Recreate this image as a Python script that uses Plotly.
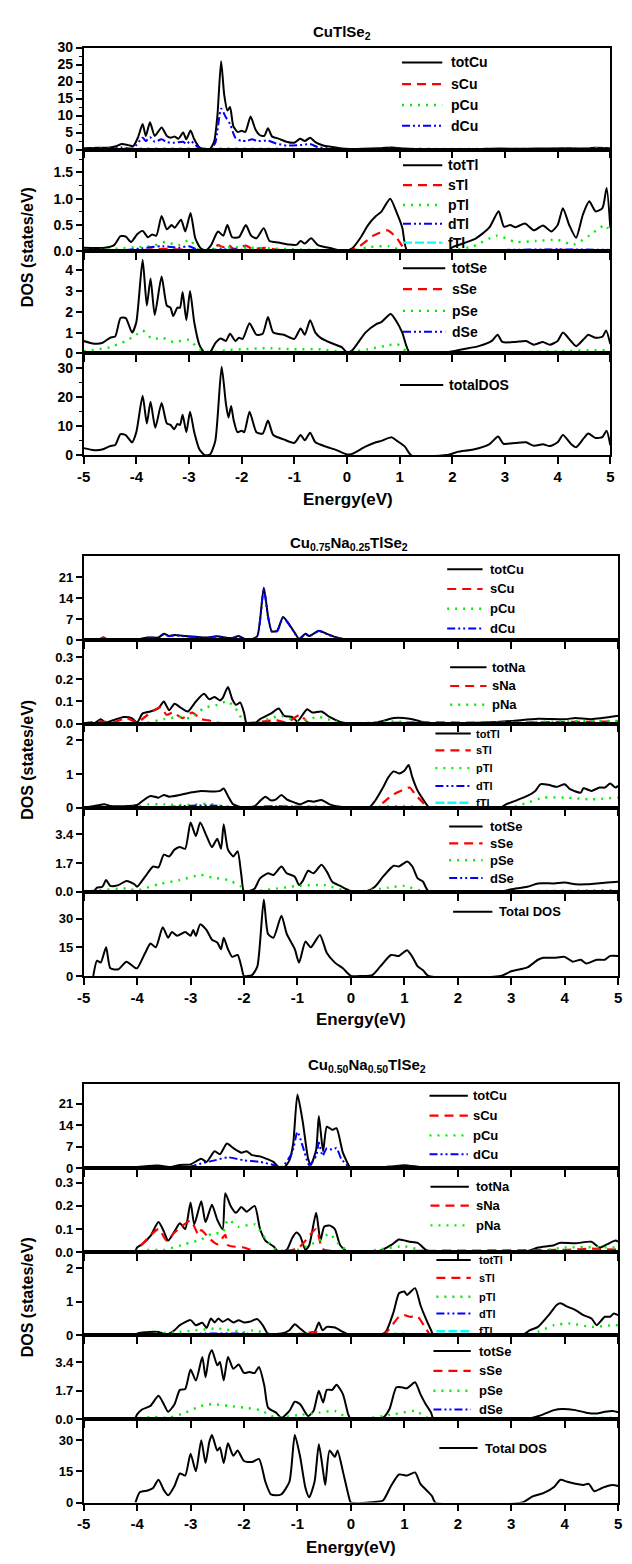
import plotly.graph_objects as go

W, H = 632, 1564

# ---------------- CuTlSe2 : (energy eV, DOS states/eV) ----------------
cu1_tot = [(-5,0.4),(-4.7,0.5),(-4.5,0.6),(-4.4,0.9),(-4.28,1.6),(-4.15,1.3),(-4.06,1.0),(-3.97,3.5),(-3.88,7.5),(-3.82,4.0),(-3.74,8.0),(-3.65,4.0),(-3.52,6.5),(-3.42,4.0),(-3.35,3.5),(-3.27,3.8),(-3.2,3.2),(-3.11,5.0),(-3.05,3.0),(-2.97,5.6),(-2.9,3.0),(-2.8,0.6),(-2.7,0.15),(-2.6,0.2),(-2.52,2.5),(-2.46,10),(-2.39,26.0),(-2.33,16),(-2.27,11.5),(-2.22,12.5),(-2.16,7),(-2.08,5.2),(-2.0,5.5),(-1.93,5.2),(-1.83,9.7),(-1.74,6.0),(-1.65,4.2),(-1.57,4.0),(-1.5,6.3),(-1.42,3.8),(-1.3,3.2),(-1.15,2.3),(-1.0,2.0),(-0.89,3.2),(-0.8,2.5),(-0.7,3.5),(-0.6,2.2),(-0.45,1.2),(-0.3,0.8),(-0.1,0.3),(0.05,0.15),(0.3,0.2),(0.6,0.4),(0.85,0.6),(1.1,0.3),(1.4,0.1),(2.0,0.1),(2.5,0.15),(2.9,0.3),(3.3,0.2),(3.7,0.3),(4.1,0.4),(4.5,0.3),(4.7,0.5),(5.0,0.4)]
cu1_s = [(-5,0.1),(-3.5,0.15),(-2.4,0.1),(0,0.05),(3,0.15),(4.5,0.2),(5,0.25)]
cu1_p = [(-5,0.2),(-3.8,0.3),(-2.4,0.3),(-1,0.2),(0,0.05),(0.8,0.2),(3,0.2),(4.7,0.3),(5,0.2)]
cu1_d = [(-5,0.1),(-4.5,0.2),(-4.28,0.6),(-4.06,0.4),(-3.88,3.5),(-3.82,2.5),(-3.74,3.6),(-3.65,2.3),(-3.52,3.0),(-3.42,2.2),(-3.27,2.0),(-3.11,2.3),(-3.05,1.6),(-2.97,2.5),(-2.85,1.0),(-2.75,0.1),(-2.6,0.1),(-2.5,2.0),(-2.39,12.0),(-2.3,9.5),(-2.22,7.5),(-2.12,3.5),(-2.0,2.5),(-1.9,2.6),(-1.8,3.0),(-1.7,2.5),(-1.5,2.6),(-1.35,1.8),(-1.15,1.2),(-0.89,1.3),(-0.7,1.6),(-0.55,0.7),(-0.3,0.3),(0.0,0.05),(0.85,0.2),(1.2,0.05),(5.0,0.1)]

tl1_tot = [(-5,0.07),(-4.6,0.07),(-4.42,0.12),(-4.3,0.29),(-4.2,0.28),(-4.1,0.18),(-3.98,0.33),(-3.88,0.39),(-3.78,0.27),(-3.7,0.32),(-3.62,0.3),(-3.52,0.67),(-3.42,0.42),(-3.33,0.5),(-3.27,0.45),(-3.15,0.6),(-3.07,0.38),(-2.97,0.73),(-2.88,0.25),(-2.78,0.06),(-2.68,0.02),(-2.58,0.12),(-2.45,0.38),(-2.35,0.3),(-2.27,0.5),(-2.18,0.27),(-2.05,0.27),(-1.92,0.5),(-1.82,0.3),(-1.72,0.25),(-1.58,0.44),(-1.47,0.2),(-1.3,0.17),(-1.1,0.13),(-0.95,0.13),(-0.88,0.2),(-0.8,0.15),(-0.68,0.25),(-0.55,0.12),(-0.3,0.06),(-0.05,0.01),(0.1,0.06),(0.25,0.25),(0.4,0.5),(0.55,0.67),(0.65,0.75),(0.82,1.0),(0.95,0.72),(1.05,0.45),(1.15,0.0),(1.9,0.0),(2.0,0.08),(2.2,0.15),(2.45,0.25),(2.7,0.45),(2.88,0.76),(2.98,0.47),(3.1,0.5),(3.2,0.46),(3.38,0.53),(3.55,0.4),(3.72,0.49),(3.88,0.38),(4.0,0.5),(4.1,0.82),(4.22,0.5),(4.35,0.26),(4.48,0.7),(4.6,0.95),(4.72,0.76),(4.85,0.82),(4.93,1.2),(5.0,0.45)]
tl1_s = [(-5,0.01),(-4,0.02),(-3.5,0.05),(-3,0.03),(-2.6,0.0),(-2.45,0.12),(-2.35,0.08),(-2.27,0.14),(-2.15,0.05),(-1.92,0.11),(-1.8,0.05),(-1.58,0.07),(-1.3,0.03),(-0.5,0.02),(0.0,0.0),(0.24,0.1),(0.5,0.3),(0.77,0.4),(0.95,0.25),(1.05,0.1),(1.12,0.0),(2.0,0.0),(3.0,0.02),(4.0,0.03),(5.0,0.02)]
tl1_p = [(-5,0.02),(-4.5,0.04),(-4.3,0.06),(-4.0,0.08),(-3.7,0.1),(-3.45,0.18),(-3.2,0.12),(-2.98,0.22),(-2.85,0.05),(-2.7,0.01),(-2.5,0.06),(-2.2,0.08),(-1.8,0.07),(-1.5,0.06),(-1.0,0.04),(-0.5,0.03),(0.0,0.0),(0.4,0.08),(0.8,0.1),(1.1,0.0),(2.0,0.02),(2.4,0.1),(2.85,0.3),(3.2,0.18),(3.6,0.2),(4.0,0.22),(4.3,0.13),(4.6,0.3),(4.9,0.5),(5.0,0.35)]
tl1_d = [(-5,0.01),(-4.2,0.03),(-3.9,0.06),(-3.5,0.1),(-3.2,0.07),(-3.0,0.1),(-2.8,0.02),(-2.4,0.04),(-1.8,0.03),(-1,0.02),(0,0.0),(1,0.01),(3,0.03),(4,0.04),(5,0.03)]
tl1_f = [(-5,0.005),(0,0.003),(5,0.008)]

se1_tot = [(-5,0.6),(-4.8,0.47),(-4.65,0.5),(-4.5,0.75),(-4.4,0.82),(-4.3,1.7),(-4.2,1.7),(-4.08,1.0),(-4.0,1.5),(-3.88,4.5),(-3.8,2.3),(-3.73,3.6),(-3.65,1.85),(-3.52,3.7),(-3.42,2.3),(-3.35,2.2),(-3.3,1.8),(-3.22,2.2),(-3.17,2.2),(-3.12,2.95),(-3.05,1.6),(-2.98,3.0),(-2.9,1.5),(-2.8,0.4),(-2.7,0.02),(-2.6,0.05),(-2.5,0.5),(-2.4,0.72),(-2.3,0.6),(-2.22,0.95),(-2.12,0.6),(-2.05,0.75),(-1.98,0.7),(-1.85,1.45),(-1.72,0.9),(-1.6,0.95),(-1.5,1.75),(-1.4,1.0),(-1.2,0.9),(-1.0,0.7),(-0.88,1.2),(-0.8,0.9),(-0.7,1.6),(-0.6,1.0),(-0.5,0.75),(-0.3,0.5),(-0.1,0.3),(0.0,0.05),(0.1,0.15),(0.35,1.0),(0.55,1.4),(0.65,1.5),(0.83,1.9),(0.95,1.5),(1.05,1.0),(1.2,0.0),(1.9,0.05),(2.2,0.2),(2.5,0.35),(2.75,0.6),(2.86,0.9),(2.95,0.55),(3.2,0.55),(3.4,0.6),(3.55,0.42),(3.72,0.55),(3.85,0.42),(4.0,0.6),(4.1,1.0),(4.25,0.6),(4.35,0.35),(4.5,0.7),(4.58,0.9),(4.72,0.75),(4.85,0.8),(4.92,1.1),(5.0,0.45)]
se1_s = [(-5,0.03),(-4,0.04),(-3,0.03),(-2,0.02),(0,0.01),(2,0.0),(3,0.05),(4,0.04),(5,0.05)]
se1_p = [(-5,0.1),(-4.5,0.3),(-4.2,0.6),(-4.0,0.9),(-3.88,1.1),(-3.7,0.7),(-3.5,0.75),(-3.3,0.55),(-3.0,0.65),(-2.8,0.2),(-2.6,0.05),(-2.3,0.15),(-2.0,0.2),(-1.5,0.25),(-1.0,0.2),(-0.5,0.2),(0.0,0.05),(0.4,0.2),(0.8,0.4),(0.95,0.45),(1.2,0.0),(2.5,0.0),(3.0,0.05),(4.0,0.1),(4.9,0.15),(5.0,0.05)]
se1_d = [(-5,0.02),(-3.5,0.03),(0,0.02),(3,0.03),(5,0.03)]

tot1 = [(-5,2.5),(-4.8,1.8),(-4.65,2.0),(-4.5,3.2),(-4.4,3.6),(-4.3,7.3),(-4.2,7.0),(-4.08,4.5),(-4.0,8.0),(-3.88,20.5),(-3.8,11),(-3.73,18.5),(-3.64,9.5),(-3.52,18),(-3.42,11),(-3.35,10.5),(-3.28,9),(-3.22,10.8),(-3.17,10.5),(-3.12,14),(-3.05,8),(-2.98,15),(-2.9,8),(-2.8,2),(-2.7,0.1),(-2.6,0.3),(-2.5,5),(-2.38,30.5),(-2.3,18),(-2.25,13),(-2.2,17),(-2.15,12),(-2.08,8),(-2.0,8.5),(-1.95,8),(-1.85,15),(-1.72,8),(-1.6,7.5),(-1.5,12),(-1.4,7),(-1.2,5.5),(-1.0,4.3),(-0.88,7),(-0.8,5.2),(-0.7,7.8),(-0.6,4.5),(-0.4,3),(-0.2,1.8),(0.0,0.3),(0.1,0.5),(0.35,3),(0.55,4.5),(0.65,5),(0.85,6.2),(0.95,5),(1.1,3),(1.22,0.0),(1.9,0.1),(2.1,1.2),(2.4,2),(2.7,3.8),(2.87,6.5),(2.97,4),(3.2,4.3),(3.4,4.5),(3.55,3.3),(3.72,3.8),(3.85,3.2),(4.0,4.5),(4.1,7),(4.25,4),(4.35,2.8),(4.5,6),(4.58,7.5),(4.72,6),(4.85,6.3),(4.93,8.5),(5.0,3.5)]

# ---------------- Cu0.75Na0.25TlSe2 ----------------
cu2_tot = [(-5,0.1),(-4.8,0.3),(-4.68,0.3),(-4.63,1.0),(-4.55,0.2),(-4.3,0.3),(-4.0,0.3),(-3.8,1.0),(-3.6,1.0),(-3.5,2.2),(-3.4,1.5),(-3.3,1.8),(-3.1,1.5),(-2.9,1.2),(-2.7,1.0),(-2.5,1.4),(-2.3,0.8),(-2.2,0.9),(-2.1,1.5),(-2.0,0.6),(-1.85,0.4),(-1.75,1.5),(-1.63,17.5),(-1.55,8),(-1.48,3),(-1.38,3.2),(-1.27,7.8),(-1.18,6),(-1.05,2.5),(-0.97,0.5),(-0.85,2.2),(-0.78,1.5),(-0.6,3.2),(-0.45,2.2),(-0.3,1.2),(-0.1,0.3),(0.0,0.0),(0.5,0.1),(1.0,0.4),(1.4,0.1),(2.0,0.1),(3.0,0.15),(4.0,0.2),(5.0,0.3)]
cu2_s = [(-5,0.0),(-4.75,0.05),(-4.63,1.0),(-4.55,0.05),(-3,0.05),(0,0.02),(5,0.05)]
cu2_p = [(-5,0.02),(-3,0.1),(-1.6,0.2),(0,0.02),(5,0.1)]
cu2_d = [(-5,0.05),(-4.8,0.2),(-4.3,0.25),(-4.0,0.3),(-3.8,0.9),(-3.6,0.95),(-3.5,2.0),(-3.4,1.4),(-3.3,1.7),(-3.1,1.4),(-2.9,1.1),(-2.7,0.9),(-2.5,1.3),(-2.3,0.7),(-2.2,0.8),(-2.1,1.4),(-2.0,0.5),(-1.85,0.35),(-1.75,1.4),(-1.63,17.2),(-1.55,7.8),(-1.48,2.9),(-1.38,3.1),(-1.27,7.6),(-1.18,5.8),(-1.05,2.4),(-0.97,0.45),(-0.85,2.1),(-0.78,1.4),(-0.6,3.1),(-0.45,2.1),(-0.3,1.1),(-0.1,0.25),(0.0,0.0),(1.0,0.3),(1.4,0.05),(5.0,0.2)]

na2_tot = [(-5,0.0),(-4.8,0.002),(-4.68,0.02),(-4.6,0.005),(-4.45,0.015),(-4.25,0.03),(-4.1,0.025),(-4.0,0.005),(-3.9,0.045),(-3.75,0.055),(-3.6,0.07),(-3.5,0.1),(-3.4,0.06),(-3.3,0.09),(-3.2,0.075),(-3.05,0.055),(-2.9,0.1),(-2.75,0.135),(-2.65,0.11),(-2.55,0.12),(-2.45,0.105),(-2.4,0.115),(-2.3,0.165),(-2.22,0.11),(-2.15,0.085),(-2.07,0.095),(-2.0,0.05),(-1.95,0.0),(-1.8,0.0),(-1.7,0.02),(-1.5,0.045),(-1.35,0.068),(-1.25,0.035),(-1.1,0.03),(-1.0,0.01),(-0.82,0.065),(-0.72,0.05),(-0.55,0.055),(-0.4,0.03),(-0.2,0.008),(0.0,0.0),(0.3,0.0),(0.6,0.012),(0.8,0.025),(1.1,0.022),(1.3,0.01),(1.5,0.0),(2.5,0.005),(3.0,0.012),(3.5,0.022),(4.0,0.02),(4.2,0.025),(4.5,0.02),(5.0,0.035)]
na2_s = [(-5,0.0),(-4.7,0.01),(-4.45,0.005),(-4.2,0.025),(-4.0,0.005),(-3.8,0.04),(-3.55,0.075),(-3.45,0.04),(-3.33,0.05),(-3.15,0.025),(-2.97,0.05),(-2.8,0.02),(-2.67,0.015),(-2.5,0.005),(-2.0,0.0),(-1.4,0.015),(-1.2,0.005),(-0.95,0.04),(-0.8,0.005),(0,0),(1,0.005),(3,0.005),(5,0.01)]
na2_p = [(-5,0.0),(-4.0,0.002),(-3.8,0.005),(-3.5,0.02),(-3.2,0.03),(-3.0,0.025),(-2.75,0.07),(-2.5,0.085),(-2.3,0.1),(-2.1,0.05),(-2.0,0.0),(-1.8,0.0),(-1.5,0.025),(-1.3,0.035),(-1.0,0.01),(-0.6,0.03),(-0.3,0.01),(0.0,0.0),(0.8,0.01),(1.5,0.0),(3.0,0.005),(4.0,0.01),(5.0,0.012)]

tl2_tot = [(-5,0.0),(-4.8,0.05),(-4.6,0.1),(-4.5,0.05),(-4.0,0.08),(-3.9,0.2),(-3.75,0.35),(-3.6,0.3),(-3.5,0.38),(-3.4,0.33),(-3.2,0.38),(-3.0,0.45),(-2.8,0.5),(-2.6,0.48),(-2.45,0.5),(-2.38,0.57),(-2.3,0.35),(-2.2,0.1),(-2.0,0.0),(-1.8,0.05),(-1.7,0.2),(-1.6,0.33),(-1.5,0.22),(-1.4,0.25),(-1.3,0.38),(-1.2,0.25),(-1.05,0.15),(-0.95,0.1),(-0.8,0.2),(-0.7,0.18),(-0.55,0.23),(-0.4,0.1),(-0.2,0.03),(0.0,0.0),(0.35,0.02),(0.45,0.2),(0.6,0.6),(0.7,0.9),(0.8,1.08),(0.9,1.02),(1.0,1.1),(1.08,1.27),(1.15,0.9),(1.25,0.5),(1.35,0.25),(1.45,0.03),(1.5,0.0),(2.8,0.0),(2.9,0.1),(3.1,0.22),(3.3,0.35),(3.45,0.5),(3.55,0.7),(3.7,0.68),(3.85,0.62),(4.0,0.7),(4.1,0.55),(4.3,0.45),(4.35,0.58),(4.5,0.5),(4.65,0.6),(4.75,0.6),(4.85,0.72),(4.95,0.6),(5.0,0.65)]
tl2_s = [(-5,0.0),(-3,0.02),(-2,0.01),(-1.5,0.05),(-1,0.03),(0,0.0),(0.5,0.02),(0.6,0.15),(0.8,0.4),(1.0,0.55),(1.1,0.6),(1.2,0.4),(1.35,0.15),(1.45,0.0),(3,0.01),(5,0.02)]
tl2_p = [(-5,0.0),(-4.0,0.03),(-3.8,0.1),(-3.5,0.1),(-3.0,0.08),(-2.7,0.12),(-2.4,0.05),(-2.0,0.0),(-1.3,0.05),(-0.5,0.03),(0.0,0.0),(1.0,0.05),(1.5,0.0),(2.9,0.0),(3.1,0.05),(3.3,0.15),(3.6,0.3),(4.0,0.3),(4.5,0.25),(5.0,0.3)]
tl2_d = [(-5,0.0),(-3.5,0.02),(-3.0,0.06),(-2.5,0.06),(-2.2,0.01),(0,0.0),(3.5,0.02),(5,0.01)]
tl2_f = [(-5,0.005),(5,0.005)]

se2_tot = [(-5,0.0),(-4.82,0.0),(-4.75,0.25),(-4.65,0.3),(-4.58,0.7),(-4.5,0.35),(-4.35,0.4),(-4.2,0.65),(-4.05,0.45),(-4.0,0.3),(-3.85,0.9),(-3.7,1.5),(-3.6,1.45),(-3.5,2.2),(-3.4,2.1),(-3.3,2.5),(-3.2,2.65),(-3.1,2.55),(-3.0,4.1),(-2.9,3.3),(-2.82,4.1),(-2.7,3.3),(-2.6,2.65),(-2.5,3.15),(-2.43,2.55),(-2.38,4.0),(-2.3,2.5),(-2.2,2.1),(-2.12,2.4),(-2.05,1.0),(-2.0,0.0),(-1.9,0.05),(-1.8,0.2),(-1.7,0.8),(-1.55,1.1),(-1.45,1.0),(-1.3,1.5),(-1.2,1.1),(-1.05,0.9),(-0.97,0.4),(-0.9,0.65),(-0.8,1.25),(-0.7,1.1),(-0.55,1.6),(-0.45,1.2),(-0.35,0.6),(-0.2,0.35),(0.0,0.05),(0.3,0.05),(0.45,0.3),(0.6,0.9),(0.8,1.55),(0.9,1.5),(1.05,1.8),(1.15,1.5),(1.25,0.8),(1.35,0.6),(1.45,0.05),(2.8,0.0),(3.0,0.15),(3.3,0.3),(3.5,0.5),(3.8,0.5),(4.0,0.55),(4.2,0.45),(4.4,0.45),(4.6,0.5),(4.8,0.55),(5.0,0.6)]
se2_s = [(-5,0.0),(-4,0.03),(-2,0.02),(0,0.01),(1,0.03),(3,0.02),(5,0.03)]
se2_p = [(-5,0.0),(-4.7,0.1),(-4.2,0.2),(-4.0,0.1),(-3.6,0.45),(-3.2,0.7),(-2.8,1.0),(-2.6,0.85),(-2.3,0.7),(-2.05,0.3),(-2.0,0.0),(-1.5,0.15),(-1.0,0.35),(-0.5,0.4),(0.0,0.0),(0.7,0.25),(1.0,0.35),(1.4,0.0),(3.0,0.0),(3.5,0.05),(5.0,0.1)]
se2_d = [(-5,0.0),(-3,0.02),(0,0.01),(5,0.02)]

tot2 = [(-4.82,0.0),(-4.75,8),(-4.68,7),(-4.58,15),(-4.5,4),(-4.35,3.5),(-4.2,7.5),(-4.05,4.5),(-4.0,4),(-3.85,12),(-3.75,17),(-3.65,15),(-3.52,25.5),(-3.42,20),(-3.35,23),(-3.25,21),(-3.1,23),(-3.0,21),(-2.95,24),(-2.9,21),(-2.82,27),(-2.7,24),(-2.6,19),(-2.5,17.5),(-2.43,14),(-2.38,20),(-2.3,14),(-2.22,10),(-2.12,11),(-2.05,5),(-2.0,0),(-1.85,0.5),(-1.75,5),(-1.63,40),(-1.55,22),(-1.45,20),(-1.3,31.5),(-1.2,22),(-1.05,14),(-0.97,7),(-0.85,18),(-0.75,15),(-0.58,21.5),(-0.45,12),(-0.3,7),(-0.15,4),(0.0,0.0),(0.2,0),(0.4,0.5),(0.55,5),(0.75,11),(0.9,10.5),(1.05,13.5),(1.15,10),(1.25,5),(1.35,3),(1.45,0),(2.8,0),(3.0,2.5),(3.3,4.5),(3.5,8.5),(3.6,9.5),(3.8,9.5),(4.0,10),(4.15,7.5),(4.3,8.5),(4.4,6.5),(4.6,8.5),(4.75,8.5),(4.85,10.5),(5.0,10.5)]

# ---------------- Cu0.50Na0.50TlSe2 ----------------
cu3_tot = [(-5,0),(-4.1,0),(-4.0,0.3),(-3.6,0.8),(-3.4,0.3),(-3.2,1.0),(-3.0,1.2),(-2.8,3),(-2.7,2),(-2.55,5.5),(-2.45,4.5),(-2.32,8),(-2.2,6.5),(-2.05,5),(-1.95,5.5),(-1.85,4.2),(-1.7,3.8),(-1.55,2.8),(-1.45,2),(-1.35,0.3),(-1.25,0.2),(-1.15,2.5),(-1.08,8),(-1.0,24),(-0.9,15),(-0.8,3),(-0.75,1),(-0.65,6),(-0.6,17),(-0.52,5.5),(-0.45,13.5),(-0.35,12.5),(-0.27,13),(-0.15,5),(-0.02,0.2),(0.0,0),(0.5,0.1),(0.8,0.6),(1.0,0.9),(1.3,0.3),(1.6,0),(3.5,0.2),(5,0.3)]
cu3_s = [(-5,0),(-3.5,0.1),(-2,0.05),(0,0),(5,0.1)]
cu3_p = [(-5,0),(-3.5,0.2),(-2.5,0.3),(-1,0.2),(0,0),(3,0.1),(5,0.2)]
cu3_d = [(-5,0),(-4.1,0),(-4.0,0.1),(-3.5,0.3),(-3.0,0.5),(-2.8,1.5),(-2.55,2.5),(-2.3,3.5),(-2.0,2.5),(-1.7,2.0),(-1.45,1.0),(-1.3,0.2),(-1.1,5),(-1.0,11.8),(-0.9,7),(-0.78,1),(-0.65,4),(-0.6,8.3),(-0.53,4),(-0.45,6.5),(-0.35,6),(-0.27,6.5),(-0.18,3),(0.0,0),(0.8,0.4),(1.0,0.6),(1.3,0.2),(1.6,0),(5,0.1)]

na3_tot = [(-5,0),(-4.05,0),(-4.0,0.02),(-3.9,0.035),(-3.75,0.07),(-3.6,0.13),(-3.5,0.09),(-3.42,0.05),(-3.3,0.09),(-3.2,0.125),(-3.1,0.1),(-3.0,0.215),(-2.93,0.12),(-2.8,0.22),(-2.72,0.13),(-2.6,0.205),(-2.5,0.14),(-2.4,0.1),(-2.35,0.255),(-2.25,0.2),(-2.15,0.17),(-2.05,0.195),(-1.95,0.175),(-1.8,0.2),(-1.7,0.1),(-1.6,0.05),(-1.45,0.025),(-1.35,0.0),(-1.2,0.01),(-1.1,0.06),(-1.02,0.085),(-0.95,0.07),(-0.85,0.01),(-0.78,0.03),(-0.65,0.17),(-0.57,0.05),(-0.5,0.11),(-0.4,0.115),(-0.3,0.1),(-0.2,0.03),(-0.05,0.0),(0.5,0.002),(0.75,0.03),(0.9,0.055),(1.1,0.045),(1.25,0.04),(1.4,0.01),(1.55,0.0),(3.3,0.005),(3.5,0.02),(3.8,0.03),(3.9,0.04),(4.2,0.038),(4.5,0.045),(4.65,0.02),(4.8,0.035),(4.95,0.05),(5.0,0.045)]
na3_s = [(-5,0),(-4.05,0),(-4.0,0.01),(-3.6,0.1),(-3.45,0.05),(-3.3,0.085),(-3.0,0.135),(-2.85,0.075),(-2.8,0.095),(-2.65,0.06),(-2.5,0.035),(-2.35,0.075),(-2.3,0.03),(-2.0,0.02),(-1.8,0.005),(-1.0,0.015),(-0.65,0.1),(-0.55,0.02),(-0.5,0.01),(0,0),(1.0,0.005),(4.0,0.01),(4.5,0.015),(5.0,0.01)]
na3_p = [(-5,0),(-4.0,0),(-3.8,0.01),(-3.5,0.01),(-3.1,0.035),(-2.8,0.055),(-2.6,0.08),(-2.4,0.085),(-2.3,0.14),(-2.1,0.11),(-1.8,0.12),(-1.6,0.06),(-1.4,0.01),(-1.0,0.01),(-0.6,0.05),(-0.4,0.08),(-0.25,0.04),(0.0,0),(1.0,0.025),(1.5,0),(3.5,0.005),(4.0,0.02),(5.0,0.02)]

tl3_tot = [(-5,0),(-4.05,0),(-4.0,0.05),(-3.9,0.08),(-3.6,0.1),(-3.45,0.02),(-3.3,0.15),(-3.2,0.3),(-3.0,0.45),(-2.9,0.3),(-2.78,0.37),(-2.7,0.22),(-2.62,0.5),(-2.55,0.38),(-2.48,0.5),(-2.4,0.4),(-2.3,0.48),(-2.2,0.38),(-2.1,0.45),(-2.0,0.38),(-1.9,0.4),(-1.75,0.48),(-1.65,0.3),(-1.55,0.05),(-1.3,0.05),(-1.15,0.15),(-1.05,0.33),(-0.95,0.2),(-0.8,0.02),(-0.68,0.1),(-0.6,0.38),(-0.53,0.15),(-0.45,0.25),(-0.3,0.23),(-0.15,0.1),(0.0,0.0),(0.5,0.0),(0.65,0.1),(0.8,0.7),(0.9,1.25),(1.0,1.3),(1.05,1.2),(1.2,1.4),(1.3,0.9),(1.4,0.5),(1.5,0.15),(1.55,0.0),(3.2,0.0),(3.35,0.15),(3.5,0.25),(3.7,0.6),(3.85,0.9),(3.92,0.95),(4.05,0.85),(4.2,0.75),(4.35,0.6),(4.5,0.5),(4.6,0.3),(4.75,0.55),(4.85,0.55),(4.92,0.65),(5.0,0.6)]
tl3_s = [(-5,0),(-3,0.02),(-1,0.03),(-0.65,0.1),(-0.5,0.02),(0,0),(0.6,0.0),(0.7,0.15),(0.9,0.55),(1.0,0.6),(1.1,0.55),(1.25,0.55),(1.4,0.2),(1.5,0),(3.5,0.01),(5,0.02)]
tl3_p = [(-5,0),(-4,0.02),(-3.2,0.1),(-2.5,0.2),(-2.0,0.1),(-1.8,0.15),(-1.5,0.02),(-1,0.05),(0,0),(0.9,0.05),(1.5,0),(3.3,0.0),(3.5,0.1),(3.8,0.3),(4.1,0.35),(4.5,0.25),(4.9,0.3),(5,0.3)]
tl3_d = [(-5,0),(-3,0.02),(-2.8,0.05),(-2.0,0.05),(-1.7,0.02),(0,0),(4,0.03),(5,0.02)]
tl3_f = [(-5,0.005),(5,0.005)]

se3_tot = [(-5,0),(-4.05,0),(-4.0,0.3),(-3.9,0.6),(-3.75,0.8),(-3.6,1.4),(-3.5,0.9),(-3.42,0.45),(-3.3,0.9),(-3.2,1.75),(-3.1,1.8),(-3.0,2.95),(-2.9,2.3),(-2.78,3.7),(-2.72,2.5),(-2.65,3.8),(-2.6,4.1),(-2.5,3.2),(-2.45,3.4),(-2.38,2.3),(-2.3,3.7),(-2.2,3.0),(-2.1,3.25),(-2.0,2.75),(-1.9,2.8),(-1.8,2.75),(-1.72,3.1),(-1.62,2.0),(-1.55,0.7),(-1.4,0.4),(-1.3,0.1),(-1.15,0.5),(-1.05,1.05),(-0.95,0.9),(-0.8,0.2),(-0.7,0.5),(-0.6,1.7),(-0.52,1.0),(-0.45,1.75),(-0.35,1.75),(-0.27,2.05),(-0.15,1.5),(-0.05,0.3),(0.0,0.0),(0.4,0.02),(0.6,0.1),(0.72,0.6),(0.85,1.9),(0.95,1.9),(1.05,1.85),(1.2,2.2),(1.3,1.5),(1.4,0.9),(1.5,0.4),(1.55,0.0),(3.2,0.0),(3.4,0.1),(3.6,0.3),(3.8,0.55),(3.95,0.62),(4.2,0.55),(4.4,0.4),(4.6,0.35),(4.75,0.45),(4.9,0.5),(5.0,0.42)]
se3_s = [(-5,0),(-4,0.02),(-2.5,0.05),(-1,0.02),(0,0),(1,0.03),(3.5,0.02),(5,0.03)]
se3_p = [(-5,0),(-4.05,0),(-4.0,0.05),(-3.7,0.15),(-3.4,0.1),(-3.1,0.4),(-2.8,0.8),(-2.6,0.9),(-2.3,0.8),(-2.0,0.7),(-1.7,0.55),(-1.4,0.1),(-1.0,0.25),(-0.6,0.4),(-0.3,0.5),(0.0,0.0),(0.8,0.3),(1.2,0.5),(1.5,0.0),(3.5,0.0),(3.8,0.05),(4.5,0.08),(5.0,0.1)]
se3_d = [(-5,0),(-3,0.02),(0,0.01),(4,0.03),(5,0.02)]

tot3 = [(-4.03,0),(-3.95,5),(-3.8,5.8),(-3.7,7),(-3.6,11),(-3.5,6),(-3.42,3.5),(-3.3,8),(-3.2,14),(-3.1,13),(-3.0,23.5),(-2.9,15),(-2.8,30),(-2.72,19),(-2.65,29),(-2.6,32.5),(-2.5,25),(-2.45,26.5),(-2.38,19),(-2.3,28.5),(-2.2,22.5),(-2.12,25),(-2.0,20),(-1.85,19.5),(-1.72,21),(-1.6,10),(-1.5,4),(-1.4,3.5),(-1.3,4),(-1.15,10),(-1.05,32.5),(-0.95,22),(-0.85,7),(-0.78,2.5),(-0.68,10),(-0.6,28),(-0.52,15),(-0.48,8.5),(-0.4,25),(-0.3,22),(-0.25,25),(-0.15,15),(-0.05,4),(0.0,0),(0.4,0.2),(0.6,1),(0.75,8),(0.9,13.5),(1.05,13),(1.2,14.5),(1.3,9),(1.45,5),(1.52,3),(1.58,0),(3.2,0),(3.4,3),(3.6,4.5),(3.8,7.5),(3.92,11),(4.05,10),(4.2,9),(4.35,8.5),(4.45,9),(4.55,5.5),(4.7,7),(4.8,8),(4.9,8.5),(5.0,8)]

energy_ticks = [-5, -4, -3, -2, -1, 0, 1, 2, 3, 4, 5]

# ---------------- styling ----------------
FONT = "Liberation Sans, Arial, Helvetica, sans-serif"
STYLE = {
    "tot": ("#000000", "solid", 2.0),
    "s": ("#ff0000", "9px,6px", 2.2),
    "p": ("#00ee00", "2px,6px", 2.4),
    "d": ("#0000ff", "8px,3px,2px,3px,2px,3px", 2.0),
    "f": ("#00ffff", "9px,3px", 2.4),
}


def px_x(px):
    return px / W


def px_y(py):
    return 1 - py / H


def panel(top, bot, rng, ticks, fmt, curves, leg, minor=None):
    return dict(top=top, bot=bot, rng=rng, ticks=ticks, fmt=fmt,
                curves=curves, leg=leg, minor=minor)


groups = [
    dict(
        title="<b>CuTlSe<sub>2</sub></b>", title_xy=(341, 25),
        xspan=(78, 614), xlabel_y=497, xlabel_x=347, ylabel_y=242, tickfont=14,
        panels=[
            panel(40, 143, [0, 30], [0, 5, 10, 15, 20, 25, 30], "{:d}",
                  [("tot", cu1_tot, "totCu"), ("s", cu1_s, "sCu"), ("p", cu1_p, "pCu"), ("d", cu1_d, "dCu")],
                  dict(x0=402, x1=443, tx=450, ys=[55, 77, 98, 119], size=14), minor=2.5),
            panel(143, 246, [0, 1.93], [0.0, 0.5, 1.0, 1.5], "{:.1f}",
                  [("tot", tl1_tot, "totTl"), ("s", tl1_s, "sTl"), ("p", tl1_p, "pTl"), ("d", tl1_d, "dTl"), ("f", tl1_f, "fTl")],
                  dict(x0=403, x1=443, tx=447, ys=[159, 179, 199, 218, 237], size=14), minor=0.25),
            panel(246, 349, [0, 4.9], [0, 1, 2, 3, 4], "{:d}",
                  [("tot", se1_tot, "totSe"), ("s", se1_s, "sSe"), ("p", se1_p, "pSe"), ("d", se1_d, "dSe")],
                  dict(x0=403, x1=446, tx=451, ys=[263, 284, 306, 327], size=14)),
            panel(349, 452, [0, 35.1], [0, 10, 20, 30], "{:d}",
                  [("tot", tot1, "totalDOS")],
                  dict(x0=400, x1=444, tx=448, ys=[381], size=14), minor=5),
        ]),
    dict(
        title="<b>Cu<sub>0.75</sub>Na<sub>0.25</sub>TlSe<sub>2</sub></b>", title_xy=(348, 541),
        xspan=(78, 622), xlabel_y=1022, xlabel_x=360, ylabel_y=760, tickfont=13,
        panels=[
            panel(554, 639, [0, 27.9], [0, 7, 14, 21], "{:d}",
                  [("tot", cu2_tot, "totCu"), ("s", cu2_s, "sCu"), ("p", cu2_p, "pCu"), ("d", cu2_d, "dCu")],
                  dict(x0=448, x1=484, tx=490, ys=[567, 587, 607, 627], size=13)),
            panel(639, 723, [0, 0.376], [0.0, 0.1, 0.2, 0.3], "{:.1f}",
                  [("tot", na2_tot, "totNa"), ("s", na2_s, "sNa"), ("p", na2_p, "pNa")],
                  dict(x0=451, x1=488, tx=492, ys=[666, 685, 704], size=13)),
            panel(723, 808, [0, 2.5], [0, 1, 2], "{:d}",
                  [("tot", tl2_tot, "totTl"), ("s", tl2_s, "sTl"), ("p", tl2_p, "pTl"), ("d", tl2_d, "dTl"), ("f", tl2_f, "fTl")],
                  dict(x0=436, x1=472, tx=475, ys=[733, 750, 768, 786, 803], size=11)),
            panel(808, 893, [0, 4.98], [0.0, 1.7, 3.4], "{:.1f}",
                  [("tot", se2_tot, "totSe"), ("s", se2_s, "sSe"), ("p", se2_p, "pSe"), ("d", se2_d, "dSe")],
                  dict(x0=450, x1=484, tx=490, ys=[827, 844, 861, 879], size=13)),
            panel(893, 978, [0, 44], [0, 15, 30], "{:d}",
                  [("tot", tot2, "Total DOS")],
                  dict(x0=454, x1=494, tx=499, ys=[913], size=13)),
        ]),
    dict(
        title="<b>Cu<sub>0.50</sub>Na<sub>0.50</sub>TlSe<sub>2</sub></b>", title_xy=(366, 1068),
        xspan=(78, 622), xlabel_y=1555, xlabel_x=350, ylabel_y=1303, tickfont=13,
        panels=[
            panel(1087, 1172, [0, 27.5], [0, 7, 14, 21], "{:d}",
                  [("tot", cu3_tot, "totCu"), ("s", cu3_s, "sCu"), ("p", cu3_p, "pCu"), ("d", cu3_d, "dCu")],
                  dict(x0=430, x1=469, tx=472, ys=[1099, 1119, 1139, 1158], size=13)),
            panel(1172, 1257, [0, 0.364], [0.0, 0.1, 0.2, 0.3], "{:.1f}",
                  [("tot", na3_tot, "totNa"), ("s", na3_s, "sNa"), ("p", na3_p, "pNa")],
                  dict(x0=431, x1=470, tx=475, ys=[1191, 1210, 1230], size=13)),
            panel(1257, 1341, [0, 2.47], [0, 1, 2], "{:d}",
                  [("tot", tl3_tot, "totTl"), ("s", tl3_s, "sTl"), ("p", tl3_p, "pTl"), ("d", tl3_d, "dTl"), ("f", tl3_f, "fTl")],
                  dict(x0=437, x1=472, tx=478, ys=[1265, 1283, 1302, 1319, 1337], size=11)),
            panel(1341, 1426, [0, 4.98], [0.0, 1.7, 3.4], "{:.1f}",
                  [("tot", se3_tot, "totSe"), ("s", se3_s, "sSe"), ("p", se3_p, "pSe"), ("d", se3_d, "dSe")],
                  dict(x0=434, x1=472, tx=478, ys=[1357, 1377, 1397, 1416], size=13)),
            panel(1426, 1510, [0, 40], [0, 15, 30], "{:d}",
                  [("tot", tot3, "Total DOS")],
                  dict(x0=440, x1=479, tx=484, ys=[1455], size=13)),
        ]),
]

fig = go.Figure()
layout = dict(
    width=W, height=H, margin=dict(l=0, r=0, t=0, b=0),
    paper_bgcolor="white", plot_bgcolor="white", showlegend=False,
    font=dict(family=FONT, color="black"),
)
shapes, annotations = [], []

n = 0
for g in groups:
    xa, xb = g["xspan"]
    npan = len(g["panels"])
    for i, p in enumerate(g["panels"]):
        n += 1
        sfx = "" if n == 1 else str(n)
        bottom = i == npan - 1
        for kind, pts, name in p["curves"]:
            color, dash, lw = STYLE[kind]
            fig.add_trace(go.Scatter(
                x=[e for e, _ in pts], y=[v for _, v in pts], mode="lines", name=name,
                line=dict(color=color, dash=dash, width=lw, shape="spline", smoothing=0.6),
                xaxis="x" + sfx, yaxis="y" + sfx, hoverinfo="skip"))
        layout["xaxis" + sfx] = dict(
            domain=[px_x(xa), px_x(xb)], anchor="y" + sfx, range=[-5, 5],
            tickvals=energy_ticks, ticktext=[str(t) for t in energy_ticks],
            showticklabels=bottom, ticks="outside", ticklen=7, tickwidth=1.5, tickcolor="black",
            showline=True, linecolor="black", linewidth=1.5, mirror=True,
            showgrid=False, zeroline=False, fixedrange=True,
            tickfont=dict(family=FONT, size=15, color="black", weight="bold"),
        )
        ya = dict(
            domain=[px_y(p["bot"]), px_y(p["top"])], anchor="x" + sfx, range=p["rng"],
            tickvals=p["ticks"], ticktext=[p["fmt"].format(t) for t in p["ticks"]],
            ticks="outside", ticklen=6, tickwidth=1.5, tickcolor="black",
            showline=True, linecolor="black", linewidth=1.5, mirror=True,
            showgrid=False, zeroline=False, fixedrange=True,
            tickfont=dict(family=FONT, size=g["tickfont"], color="black", weight="bold"),
        )
        if p["minor"]:
            ya["minor"] = dict(dtick=p["minor"], ticks="outside", ticklen=3, tickwidth=1.2,
                               tickcolor="black", showgrid=False)
        layout["yaxis" + sfx] = ya

        # legend block: sample line + label for each curve
        lg = p["leg"]
        for (kind, _, name), yy in zip(p["curves"], lg["ys"]):
            color, dash, lw = STYLE[kind]
            shapes.append(dict(type="line", xref="paper", yref="paper",
                               x0=px_x(lg["x0"]), x1=px_x(lg["x1"]), y0=px_y(yy), y1=px_y(yy),
                               line=dict(color=color, dash=dash, width=lw)))
            annotations.append(dict(text="<b>%s</b>" % name, xref="paper", yref="paper",
                                    x=px_x(lg["tx"]), y=px_y(yy), xanchor="left", yanchor="middle",
                                    showarrow=False, font=dict(family=FONT, size=lg["size"], color="black")))

    tx, ty = g["title_xy"]
    annotations.append(dict(text=g["title"], xref="paper", yref="paper", x=px_x(tx), y=px_y(ty),
                            xanchor="center", yanchor="middle", showarrow=False,
                            font=dict(family=FONT, size=15, color="black")))
    annotations.append(dict(text="<b>Energy(eV)</b>", xref="paper", yref="paper",
                            x=px_x(g["xlabel_x"]), y=px_y(g["xlabel_y"]),
                            xanchor="center", yanchor="middle", showarrow=False,
                            font=dict(family=FONT, size=17, color="black")))
    annotations.append(dict(text="<b>DOS (states/eV)</b>", xref="paper", yref="paper",
                            x=px_x(21), y=px_y(g["ylabel_y"]), textangle=-90,
                            xanchor="center", yanchor="middle", showarrow=False,
                            font=dict(family=FONT, size=16, color="black")))

layout["shapes"] = shapes
layout["annotations"] = annotations
fig.update_layout(**layout)
fig.write_html("out.html")
